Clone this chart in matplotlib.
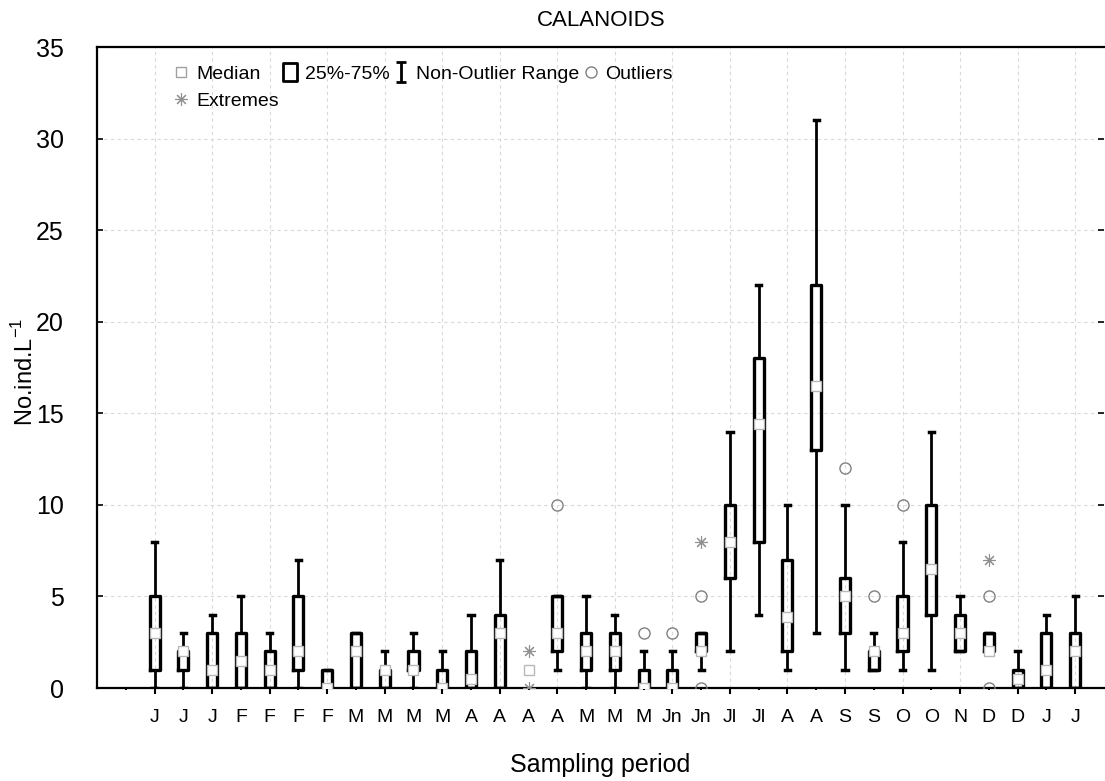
import numpy as np
import matplotlib.pyplot as plt
from matplotlib.lines import Line2D
from matplotlib.path import Path

plt.rcParams['font.family'] = ['Liberation Sans', 'DejaVu Sans']

# sampling months (33 samples)
months = ['J', 'J', 'J', 'F', 'F', 'F', 'F', 'M', 'M', 'M', 'M', 'A', 'A', 'A', 'A',
          'M', 'M', 'M', 'Jn', 'Jn', 'Jl', 'Jl', 'A', 'A', 'S', 'S', 'O', 'O', 'N',
          'D', 'D', 'J', 'J']
median = [3, 2, 1, 1.5, 1, 2, 0, 2, 1, 1, 0, 0.5, 3, 1, 3, 2, 2, 0, 0, 2,
          8, 14.4, 3.9, 16.5, 5, 2, 3, 6.5, 3, 2, 0.5, 1, 2]
q1 = [1, 1, 0, 0, 0, 1, 0, 0, 0, 1, 0, 0, 0, np.nan, 2, 1, 1, 0, 0, 2,
      6, 8, 2, 13, 3, 1, 2, 4, 2, 2, 0, 0, 0]
q3 = [5, 2, 3, 3, 2, 5, 1, 3, 1, 2, 1, 2, 4, np.nan, 5, 3, 3, 1, 1, 3,
      10, 18, 7, 22, 6, 2, 5, 10, 4, 3, 1, 3, 3]
whis_lo = [0, 0, 0, 0, 0, 0, 0, 0, 0, 0, 0, 0, 0, np.nan, 1, 0, 0, 0, 0, 1,
           2, 4, 1, 3, 1, 1, 1, 1, 2, 2, 0, 0, 0]
whis_hi = [8, 3, 4, 5, 3, 7, 1, 3, 2, 3, 2, 4, 7, np.nan, 5, 5, 4, 2, 2, 3,
           14, 22, 10, 31, 10, 3, 8, 14, 5, 3, 2, 4, 5]

# outliers (circles) and extremes (asterisks): sample index, value
outlier_x = [14, 17, 18, 19, 19, 24, 25, 26, 29, 29]
outlier_y = [10, 3, 3, 5, 0, 12, 5, 10, 5, 0]
extreme_x = [13, 13, 19, 29]
extreme_y = [2, 0, 8, 7]

fig = plt.figure(figsize=(11.05, 7.81), dpi=100)
ax = fig.add_axes([0.0878, 0.119, 0.9112, 0.8208])

stats, pos = [], []
for i in range(len(months)):
    if np.isnan(q1[i]):
        continue
    stats.append(dict(med=median[i], q1=q1[i], q3=q3[i],
                      whislo=whis_lo[i], whishi=whis_hi[i], fliers=[]))
    pos.append(i)

ax.bxp(stats, positions=pos, widths=0.35, capwidths=0.18, showfliers=False,
       boxprops=dict(color='k', lw=2.4),
       whiskerprops=dict(color='k', lw=2),
       capprops=dict(color='k', lw=2.5),
       medianprops=dict(visible=False), manage_ticks=False, zorder=3)

ax.plot(range(len(months)), median, ls='', marker='s', ms=7.5, mfc='white',
        mec='#b8b8b8', mew=1, zorder=4)
ax.plot(outlier_x, outlier_y, ls='', marker='o', ms=8, mfc='none',
        mec='#808080', mew=1, zorder=4)
ax.plot(extreme_x, extreme_y, ls='', marker=(8, 2, 0), ms=9,
        mec='#909090', mew=0.8, zorder=4)

ax.set_xlim(-2, 33)
ax.set_ylim(0, 35)

even = list(range(0, 33, 2))
odd = list(range(-1, 33, 2))
ax.set_xticks(even, [months[i] for i in even])
ax.set_xticks(odd, [''] + [months[i] for i in odd[1:]], minor=True)
ax.tick_params(axis='x', which='major', direction='out', length=4, width=1.5,
               pad=11, labelsize=14)
ax.tick_params(axis='x', which='minor', direction='out', length=1.5, width=1.5,
               pad=13.5, labelsize=14)
ax.set_yticks(range(0, 36, 5))
ax.tick_params(axis='y', direction='in', length=4, width=1.2, labelsize=18,
               right=True, pad=24)

ax.grid(True, which='major', ls=(0, (3, 3)), color='#d9d9d9', lw=0.8)
ax.set_axisbelow(True)
for s in ['left', 'bottom', 'top']:
    ax.spines[s].set_linewidth(1.6)
ax.spines['right'].set_visible(False)

fig.text(0.544, 1 - 20 / 781, 'CALANOIDS', ha='center', va='center', fontsize=16)
fig.text(0.543, 1 - 765 / 781, 'Sampling period', ha='center', va='center', fontsize=18)
fig.text(25 / 1105, 1 - 372 / 781, 'No.ind.L$^{\\mathregular{-1}}$', rotation=90,
         ha='center', va='center', fontsize=17)

# legend
I_path = Path([(-0.5, 1), (0.5, 1), (0, 1), (0, -1), (-0.5, -1), (0.5, -1)],
              [Path.MOVETO, Path.LINETO, Path.MOVETO, Path.LINETO, Path.MOVETO, Path.LINETO])
rect_path = Path([(-0.8, -1), (0.8, -1), (0.8, 1), (-0.8, 1), (-0.8, -1)],
                 [Path.MOVETO, Path.LINETO, Path.LINETO, Path.LINETO, Path.CLOSEPOLY])
handles = [
    Line2D([], [], ls='', marker='s', ms=7, mfc='white', mec='#a0a0a0', mew=1),
    Line2D([], [], ls='', marker=(8, 2, 0), ms=9, mec='#909090', mew=0.8),
    Line2D([], [], ls='', marker=rect_path, ms=13, mfc='none', mec='k', mew=2),
    Line2D([], [], ls='', marker=I_path, ms=14, mec='k', mew=2),
    Line2D([], [], ls='', marker='o', ms=8, mfc='none', mec='#808080', mew=1),
]
names = ['Median', 'Extremes', '25%-75%', 'Non-Outlier Range', 'Outliers']
ax.legend(handles, names, ncol=4, loc='upper left', bbox_to_anchor=(0.078, 0.972),
          frameon=False, fontsize=14, handlelength=0.6, handletextpad=0.45,
          columnspacing=0.3, labelspacing=0.5, borderaxespad=0, borderpad=0)

fig.savefig('out.png', dpi=100)
